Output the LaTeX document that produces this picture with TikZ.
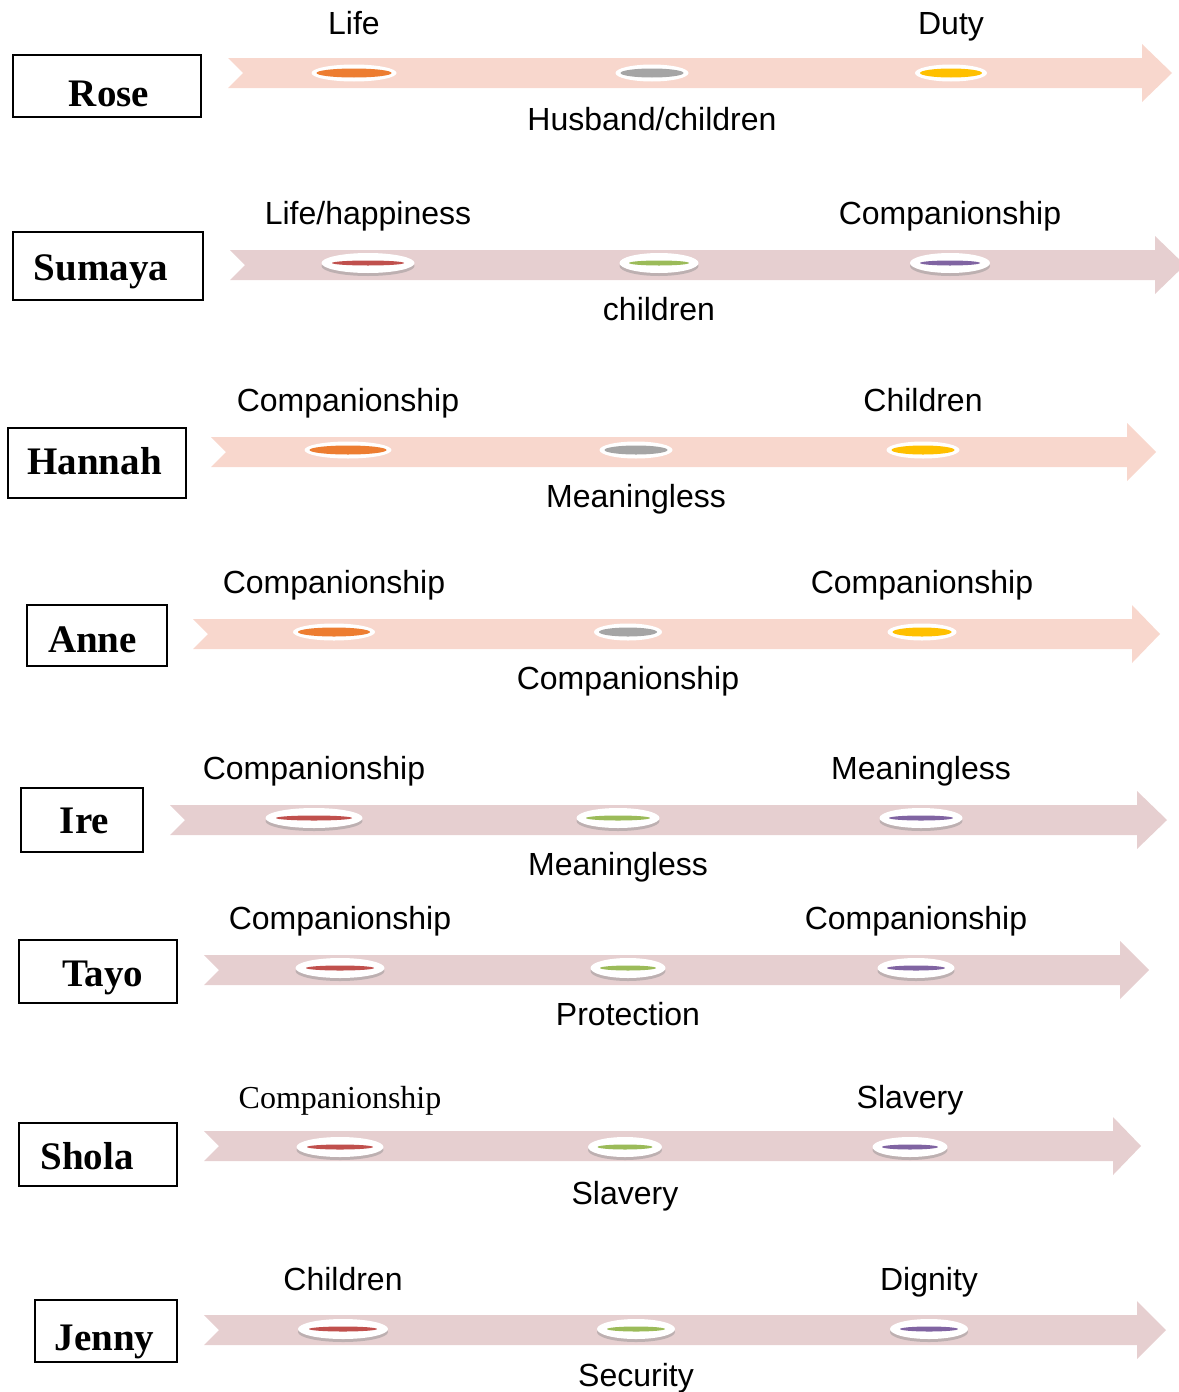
\documentclass[tikz,border=0pt]{standalone}
\usepackage{fontspec}
\setmainfont{Liberation Sans}
\newfontfamily\serifname{Liberation Serif}
\usetikzlibrary{positioning, shapes.geometric, shadows}

\definecolor{peach}{HTML}{F8D7CD}
\definecolor{rosy}{HTML}{E6CFD0}
\definecolor{dotorange}{HTML}{ED7D31}
\definecolor{dotgray}{HTML}{A5A5A5}
\definecolor{dotyellow}{HTML}{FFC000}
\definecolor{dotred}{HTML}{C0504D}
\definecolor{dotgreen}{HTML}{9BBB59}
\definecolor{dotpurple}{HTML}{8064A2}

% band with notched tail: colour, tail x, centre y, head start x, tip x
\newcommand{\bandarrow}[5]{%
  \fill[#1] (#2,#3-15) -- (#4,#3-15) -- (#4,#3-29) -- (#5,#3)
    -- (#4,#3+29) -- (#4,#3+15) -- (#2,#3+15) -- (#2+15,#3) -- cycle;}

\begin{document}
\begin{tikzpicture}[
    x=1pt, y=-1pt,
    namebox/.style={draw, line width=1.6pt, inner sep=0pt},
    person/.style={
        inner sep=0pt,
        anchor=base,
        font=\serifname\bfseries\fontsize{39}{46}\selectfont
    },
    ring/.style={ellipse, fill=white, inner sep=0pt, minimum width=#1, minimum height=17pt},
    ringsh/.style={ellipse, fill=white, inner sep=0pt, minimum width=#1, minimum height=20pt,
        drop shadow={shadow xshift=0pt, shadow yshift=-3pt, fill=black!45, opacity=.45}},
    dot/.style={ellipse, fill=#1, inner sep=0pt, minimum height=9pt},
    lens/.style={ellipse, fill=#1, inner sep=0pt, minimum height=5pt},
    lab/.style={inner sep=0pt, anchor=base, font=\fontsize{32}{38}\selectfont}
]
\useasboundingbox (0,0) rectangle (1178,1392);

% Rose
\node[namebox, minimum width=188pt, minimum height=62pt] (rosebox) at (107,86) {};
\node[person] (rose) at (109,106) {Rose};
\bandarrow{peach}{228}{73}{1142}{1172}
\node[ring=85pt] (r1a) at (354,73) {};
\node[ring=73pt] (r1b) at (652,73) {};
\node[ring=72pt] (r1c) at (951,73) {};
\node[dot=dotorange, minimum width=75pt] (d1a) at (r1a) {};
\node[dot=dotgray, minimum width=63pt] (d1b) at (r1b) {};
\node[dot=dotyellow, minimum width=62pt] (d1c) at (r1c) {};
\node[above=39pt of r1a.center, lab] (l1a) {Life};
\node[above=39pt of r1c.center, lab] (l1c) {Duty};
\node[below=57pt of r1b.center, lab] (l1b) {Husband/children};

% Sumaya
\node[namebox, minimum width=190pt, minimum height=68pt] (sumayabox) at (108,266) {};
\node[person] (sumaya) at (101,280) {Sumaya};
\bandarrow{rosy}{230}{265}{1155}{1185}
\node[ringsh=93pt] (r2a) at (368,263) {};
\node[ringsh=79pt] (r2b) at (659,263) {};
\node[ringsh=80pt] (r2c) at (950,263) {};
\node[lens=dotred, minimum width=72pt] (d2a) at (r2a) {};
\node[lens=dotgreen, minimum width=60pt] (d2b) at (r2b) {};
\node[lens=dotpurple, minimum width=60pt] (d2c) at (r2c) {};
\node[above=39pt of r2a.center, lab] (l2a) {Life/happiness};
\node[above=39pt of r2c.center, lab] (l2c) {Companionship};
\node[below=57pt of r2b.center, lab] (l2b) {children};

% Hannah
\node[namebox, minimum width=178pt, minimum height=70pt] (hannahbox) at (97,463) {};
\node[person] (hannah) at (94.5,474) {Hannah};
\bandarrow{peach}{211}{452}{1127}{1156}
\node[ring=87pt] (r3a) at (348,450) {};
\node[ring=73pt] (r3b) at (636,450) {};
\node[ring=73pt] (r3c) at (923,450) {};
\node[dot=dotorange, minimum width=77pt] (d3a) at (r3a) {};
\node[dot=dotgray, minimum width=63pt] (d3b) at (r3b) {};
\node[dot=dotyellow, minimum width=63pt] (d3c) at (r3c) {};
\node[above=39pt of r3a.center, lab] (l3a) {Companionship};
\node[above=39pt of r3c.center, lab] (l3c) {Children};
\node[below=57pt of r3b.center, lab] (l3b) {Meaningless};

% Anne
\node[namebox, minimum width=140pt, minimum height=61pt] (annebox) at (97,635.5) {};
\node[person] (anne) at (92.5,652) {Anne};
\bandarrow{peach}{193}{634}{1132}{1160}
\node[ring=82pt] (r4a) at (334,632) {};
\node[ring=68pt] (r4b) at (628,632) {};
\node[ring=69pt] (r4c) at (922,632) {};
\node[dot=dotorange, minimum width=72pt] (d4a) at (r4a) {};
\node[dot=dotgray, minimum width=58pt] (d4b) at (r4b) {};
\node[dot=dotyellow, minimum width=59pt] (d4c) at (r4c) {};
\node[above=39pt of r4a.center, lab] (l4a) {Companionship};
\node[above=39pt of r4c.center, lab] (l4c) {Companionship};
\node[below=57pt of r4b.center, lab] (l4b) {Companionship};

% Ire
\node[namebox, minimum width=122pt, minimum height=64pt] (irebox) at (82,820) {};
\node[person] (ire) at (84.5,833) {Ire};
\bandarrow{rosy}{170}{820}{1137}{1167}
\node[ringsh=97pt] (r5a) at (314,818) {};
\node[ringsh=83pt] (r5b) at (618,818) {};
\node[ringsh=83pt] (r5c) at (921,818) {};
\node[lens=dotred, minimum width=76pt] (d5a) at (r5a) {};
\node[lens=dotgreen, minimum width=64pt] (d5b) at (r5b) {};
\node[lens=dotpurple, minimum width=64pt] (d5c) at (r5c) {};
\node[above=39pt of r5a.center, lab] (l5a) {Companionship};
\node[above=39pt of r5c.center, lab] (l5c) {Meaningless};
\node[below=57pt of r5b.center, lab] (l5b) {Meaningless};

% Tayo
\node[namebox, minimum width=158pt, minimum height=63pt] (tayobox) at (98,971.5) {};
\node[person] (tayo) at (103,986) {Tayo};
\bandarrow{rosy}{204}{970}{1120}{1149}
\node[ringsh=89pt] (r6a) at (340,968) {};
\node[ringsh=75pt] (r6b) at (628,968) {};
\node[ringsh=77pt] (r6c) at (916,968) {};
\node[lens=dotred, minimum width=68pt] (d6a) at (r6a) {};
\node[lens=dotgreen, minimum width=56pt] (d6b) at (r6b) {};
\node[lens=dotpurple, minimum width=58pt] (d6c) at (r6c) {};
\node[above=39pt of r6a.center, lab] (l6a) {Companionship};
\node[above=39pt of r6c.center, lab] (l6c) {Companionship};
\node[below=57pt of r6b.center, lab] (l6b) {Protection};

% Shola
\node[namebox, minimum width=158pt, minimum height=63pt] (sholabox) at (98,1154.5) {};
\node[person] (shola) at (87,1169) {Shola};
\bandarrow{rosy}{204}{1146}{1113}{1141}
\node[ringsh=87pt] (r7a) at (340,1147) {};
\node[ringsh=74pt] (r7b) at (625,1147) {};
\node[ringsh=75pt] (r7c) at (910,1147) {};
\node[lens=dotred, minimum width=66pt] (d7a) at (r7a) {};
\node[lens=dotgreen, minimum width=55pt] (d7b) at (r7b) {};
\node[lens=dotpurple, minimum width=56pt] (d7c) at (r7c) {};
\node[above=39pt of r7a.center, lab, font=\serifname\fontsize{32}{38}\selectfont] (l7a) {Companionship};
\node[above=39pt of r7c.center, lab] (l7c) {Slavery};
\node[below=57pt of r7b.center, lab] (l7b) {Slavery};

% Jenny
\node[namebox, minimum width=142pt, minimum height=62pt] (jennybox) at (106,1331) {};
\node[person] (jenny) at (104.5,1350) {Jenny};
\bandarrow{rosy}{204}{1330}{1137}{1166}
\node[ringsh=90pt] (r8a) at (343,1329) {};
\node[ringsh=78pt] (r8b) at (636,1329) {};
\node[ringsh=78pt] (r8c) at (929,1329) {};
\node[lens=dotred, minimum width=68pt] (d8a) at (r8a) {};
\node[lens=dotgreen, minimum width=58pt] (d8b) at (r8b) {};
\node[lens=dotpurple, minimum width=58pt] (d8c) at (r8c) {};
\node[above=39pt of r8a.center, lab] (l8a) {Children};
\node[above=39pt of r8c.center, lab] (l8c) {Dignity};
\node[below=57pt of r8b.center, lab] (l8b) {Security};
\end{tikzpicture}
\end{document}
